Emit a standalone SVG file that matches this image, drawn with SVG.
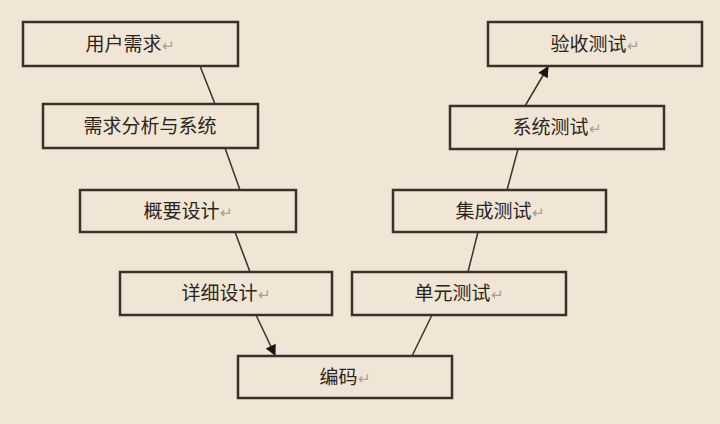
<svg xmlns="http://www.w3.org/2000/svg" width="720" height="424" viewBox="0 0 720 424">
<style>
.b{fill:#f1e6d6;stroke:#3b3129;stroke-width:2.5}
.t{font-family:"Liberation Sans","Noto Sans CJK SC",sans-serif;font-size:19px;fill:#2a2420;text-anchor:middle}
.r{fill:#a89e94;font-size:15px}
.c{stroke:#3b3129;stroke-width:1.5;fill:none}
</style>
<defs><marker id="a" viewBox="0 0 10 10" refX="9" refY="5" markerWidth="13" markerHeight="11" orient="auto" markerUnits="userSpaceOnUse"><path d="M0,0L10,5L0,10z" fill="#1a1512"/></marker></defs>
<rect width="720" height="424" fill="#f1e6d6"/>
<g id="connectors">
<line class="c" x1="200" y1="66" x2="215" y2="104"/>
<line class="c" x1="225" y1="148" x2="240" y2="190"/>
<line class="c" x1="235" y1="232" x2="250" y2="272"/>
<line class="c" x1="256" y1="315" x2="275" y2="355" marker-end="url(#a)"/>
<line class="c" x1="412" y1="356" x2="432" y2="315"/>
<line class="c" x1="468" y1="272" x2="478" y2="232"/>
<line class="c" x1="507" y1="190" x2="518" y2="149"/>
<line class="c" x1="525" y1="106" x2="548" y2="67" marker-end="url(#a)"/>
</g>
<g id="n1"><rect class="b" x="23" y="22" width="215" height="44"/><text class="t" x="130" y="51">用户需求<tspan class="r">↵</tspan></text></g>
<g id="n2"><rect class="b" x="43" y="104" width="215" height="44"/><text class="t" x="150" y="133">需求分析与系统</text></g>
<g id="n3"><rect class="b" x="80" y="190" width="216" height="42"/><text class="t" x="188" y="218">概要设计<tspan class="r">↵</tspan></text></g>
<g id="n4"><rect class="b" x="120" y="272" width="212" height="43"/><text class="t" x="226" y="300">详细设计<tspan class="r">↵</tspan></text></g>
<g id="n5"><rect class="b" x="238" y="356" width="214" height="42"/><text class="t" x="345" y="384">编码<tspan class="r">↵</tspan></text></g>
<g id="n6"><rect class="b" x="352" y="272" width="214" height="43"/><text class="t" x="459" y="300">单元测试<tspan class="r">↵</tspan></text></g>
<g id="n7"><rect class="b" x="393" y="190" width="213" height="42"/><text class="t" x="500" y="218">集成测试<tspan class="r">↵</tspan></text></g>
<g id="n8"><rect class="b" x="450" y="106" width="214" height="43"/><text class="t" x="557" y="134">系统测试<tspan class="r">↵</tspan></text></g>
<g id="n9"><rect class="b" x="488" y="22" width="214" height="44"/><text class="t" x="595" y="51">验收测试<tspan class="r">↵</tspan></text></g>
</svg>
